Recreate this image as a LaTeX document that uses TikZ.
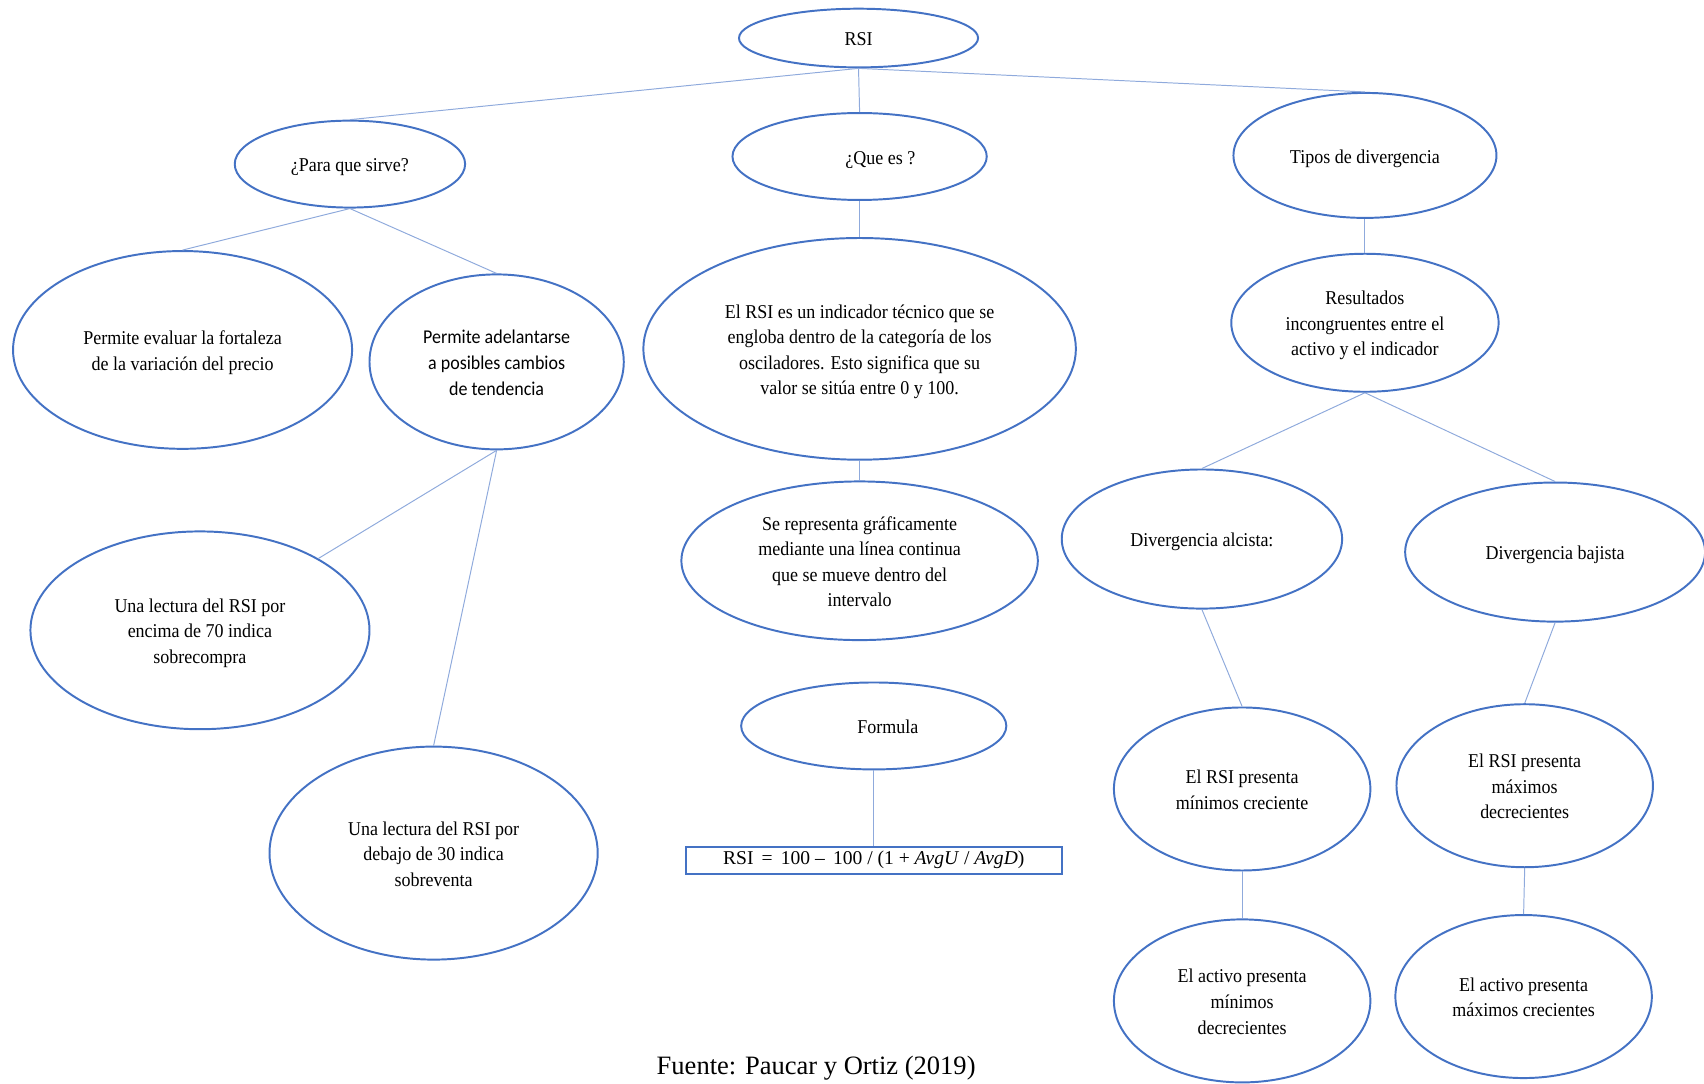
\documentclass[tikz,border=0pt]{standalone}
\usepackage{fontspec}
\setmainfont{Liberation Serif}[FakeStretch=0.92]
\newfontfamily\capfont{Liberation Serif}
\newfontfamily\calib{Carlito}[FakeStretch=0.92]
\newfontfamily\eqfont{Liberation Serif}
\usetikzlibrary{shapes.geometric}
\definecolor{edgeblue}{HTML}{4472C4}
\definecolor{linkblue}{HTML}{8FAADC}
% strut that gives every first line the same height
\newcommand{\lift}{\rule{0pt}{18pt}}
\begin{document}
\begin{tikzpicture}[x=1pt,y=-1pt,
  bubble/.style={ellipse,draw=edgeblue,line width=1.8pt,inner sep=0pt,align=center,
    font=\fontsize{18}{23.5}\selectfont,
    execute at end node={\rule[-4pt]{0pt}{4pt}}},
  sz/.style 2 args={minimum width=#1,minimum height=#2},
  conn/.style={draw=linkblue,line width=0.9pt}]
\path[use as bounding box] (0,0) rectangle (1568,997);

% top level
\node[bubble,sz={220pt}{54pt}] (rsi) at (790,35) {\lift RSI};
\node[bubble,sz={212pt}{80pt}] (para) at (322,151) {\lift ¿Para que sirve?};
\node[bubble,sz={234pt}{80pt}] (que) at (791,144) {\lift\hspace*{38pt}¿Que es ?};
\node[bubble,sz={242pt}{115pt}] (tipos) at (1256,143) {\lift Tipos de divergencia};

% ¿Para que sirve? branch
\node[bubble,sz={312pt}{182pt}] (eval) at (168,322) {\lift Permite evaluar la fortaleza\\de la variación del precio};
\node[bubble,sz={234pt}{161pt},font=\calib\fontsize{18}{23.5}\selectfont] (adel) at (457,333) {\lift Permite adelantarse\\a posibles cambios\\de tendencia};
\node[bubble,sz={312pt}{182pt}] (l70) at (184,580) {\lift Una lectura del RSI por\\encima de 70 indica\\sobrecompra};
\node[bubble,sz={302pt}{196pt}] (l30) at (399,785) {\lift Una lectura del RSI por\\debajo de 30 indica\\sobreventa};

% ¿Que es? branch
\node[bubble,sz={398pt}{204pt}] (def) at (791,321) {\lift El RSI es un indicador técnico que se\\engloba dentro de la categoría de los\\osciladores. Esto significa que su\\valor se sitúa entre 0 y 100.};
\node[bubble,sz={328pt}{146pt}] (graf) at (791,516) {\lift Se representa gráficamente\\mediante una línea continua\\que se mueve dentro del\\intervalo};
\node[bubble,sz={244pt}{80pt}] (form) at (804,668) {\lift\hspace*{26pt}Formula};
\node[draw=edgeblue,line width=1.8pt,minimum width=346pt,minimum height=25pt,inner sep=0pt,
  font=\eqfont\fontsize{18}{20}\selectfont] (eq) at (804,791.5)
  {RSI\, = \,100 – \,100 / (1 + \textit{AvgU} / \textit{AvgD})};

% Tipos de divergencia branch
\node[bubble,sz={246pt}{127pt}] (res) at (1256,297) {\lift Resultados\\incongruentes entre el\\activo y el indicador};
\node[bubble,sz={258pt}{128pt}] (alc) at (1106,496) {\lift Divergencia alcista:};
\node[bubble,sz={276pt}{128pt}] (baj) at (1431,508) {\lift Divergencia bajista};
\node[bubble,sz={236pt}{150pt}] (rmin) at (1143,726) {\lift El RSI presenta\\mínimos creciente};
\node[bubble,sz={236pt}{150pt}] (rmax) at (1403,723) {\lift El RSI presenta\\máximos\\decrecientes};
\node[bubble,sz={236pt}{150pt}] (amin) at (1143,921) {\lift El activo presenta\\mínimos\\decrecientes};
\node[bubble,sz={236pt}{150pt}] (amax) at (1402,917) {\lift El activo presenta\\máximos crecientes};

% source line
\node[font=\capfont\fontsize{24.4}{28}\selectfont,inner sep=0pt] (src) at (751,983) {Fuente: Paucar y Ortiz (2019)};

% connectors
\draw[conn] (rsi.south) -- (para.north);
\draw[conn] (rsi.south) -- (que.north);
\draw[conn] (rsi.south) -- (tipos.north);
\draw[conn] (para.south) -- (eval.north);
\draw[conn] (para.south) -- (adel.north);
\draw[conn] (adel.south) -- (l70);
\draw[conn] (adel.south) -- (l30.north);
\draw[conn] (que.south) -- (def.north);
\draw[conn] (def.south) -- (graf.north);
\draw[conn] (form.south) -- (eq.north);
\draw[conn] (tipos.south) -- (res.north);
\draw[conn] (res.south) -- (alc.north);
\draw[conn] (res.south) -- (baj.north);
\draw[conn] (alc.south) -- (rmin.north);
\draw[conn] (baj.south) -- (rmax.north);
\draw[conn] (rmin.south) -- (amin.north);
\draw[conn] (rmax.south) -- (amax.north);
\end{tikzpicture}
\end{document}
